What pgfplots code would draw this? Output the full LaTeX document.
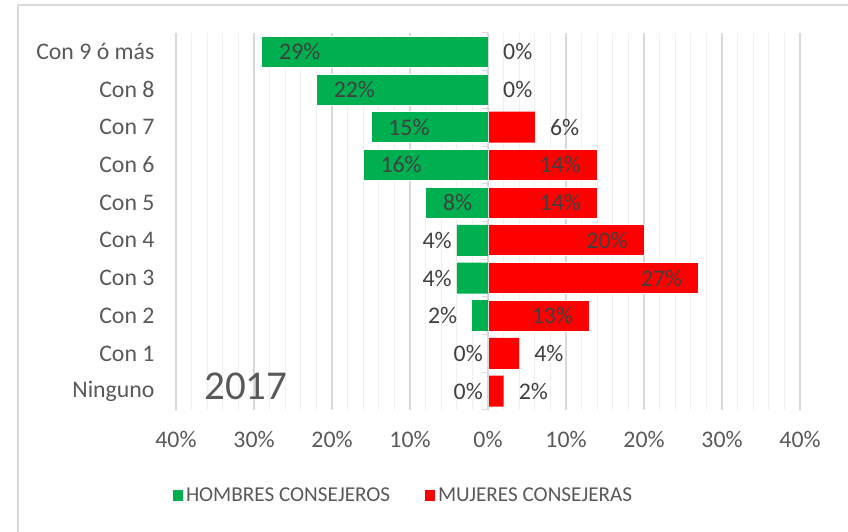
\documentclass[border=0pt]{standalone}
\usepackage{pgfplots}
\pgfplotsset{compat=1.18}
\usepackage{fontspec}
\setmainfont{Carlito}
\definecolor{cgreen}{HTML}{00B050}
\definecolor{cred}{HTML}{FF0000}
\definecolor{ctext}{HTML}{595959}
\definecolor{clab}{HTML}{404040}
\definecolor{cmaj}{HTML}{D9D9D9}
\definecolor{cmin}{HTML}{F0F0F0}
\begin{document}
\begin{tikzpicture}[x=1bp,y=1bp]
\useasboundingbox (0,0) rectangle (848,532);
\draw[cmaj, line width=1.2bp] (18,0) -- (18,527) -- (848,527);
\begin{axis}[
  at={(176bp,122bp)}, anchor=south west,
  scale only axis, width=624bp, height=377bp,
  xbar, bar shift=0pt, bar width=31bp,
  xmin=-40, xmax=40, ymin=-0.5, ymax=9.5,
  xtick={-40,-30,...,40},
  xticklabels={40\%,30\%,20\%,10\%,0\%,10\%,20\%,30\%,40\%},
  minor x tick num=4,
  ytick={0,...,9},
  yticklabels={Ninguno,Con 1,Con 2,Con 3,Con 4,Con 5,Con 6,Con 7,Con 8,Con 9 ó más},
  xmajorgrids, xminorgrids,
  major grid style={cmaj, line width=1.2bp},
  minor grid style={cmin, line width=1bp},
  axis line style={draw=none},
  major tick length=0pt, minor tick length=0pt,
  /pgf/number format/assume math mode=true,
  tick label style={font=\fontsize{23.8bp}{28bp}\selectfont, text=ctext},
  xticklabel style={yshift=-18bp},
  yticklabel style={xshift=-18bp},
  point meta=explicit,
  nodes near coords={\pgfmathprintnumber[assume math mode=true]{\pgfplotspointmeta}\%},
  nodes near coords style={font=\fontsize{23.8bp}{28bp}\selectfont, text=clab, inner sep=0pt},
  legend style={at={(-0.0064,-0.2265)}, anchor=west, draw=none, fill=none,
    legend columns=2, font=\fontsize{21.2bp}{24bp}\selectfont, text=ctext,
    /tikz/every even column/.append style={column sep=32bp},
    legend cell align=left, inner sep=0pt},
  legend image code/.code={\fill[#1] (0bp,-6bp) rectangle (11bp,6bp);},
  clip=false,
]
% green, labels inside end
\addplot[fill=cgreen, draw=white, line width=0.8bp,
  nodes near coords style={anchor=west, xshift=17bp}]
  coordinates {(-29,9) [29] (-22,8) [22] (-15,7) [15] (-16,6) [16] (-8,5) [8]};
\addlegendentry{HOMBRES CONSEJEROS}
% red, labels inside end
\addplot[fill=cred, draw=white, line width=0.8bp,
  nodes near coords style={anchor=east, xshift=-16bp}]
  coordinates {(14,6) [14] (14,5) [14] (20,4) [20] (27,3) [27] (13,2) [13]};
\addlegendentry{MUJERES CONSEJERAS}
% green, labels outside
\addplot[fill=cgreen, draw=none,
  nodes near coords style={anchor=east, xshift=-5bp}]
  coordinates {(-4,4) [4] (-4,3) [4] (0,1) [0] (0,0) [0]};
\addplot[fill=cgreen, draw=none,
  nodes near coords style={anchor=east, xshift=-15bp}]
  coordinates {(-2,2) [2]};
% red, labels outside
\addplot[fill=cred, draw=none,
  nodes near coords style={anchor=west, xshift=15bp}]
  coordinates {(0,9) [0] (0,8) [0] (6,7) [6] (4,1) [4] (2,0) [2]};
\draw[cmaj, line width=1bp] (axis cs:0,-0.5) -- (axis cs:0,9.5);
\pgfplotsinvokeforeach{0,...,10}{
  \draw[cmaj, line width=1bp] (axis cs:0,#1-0.5) -- ++(-6bp,0bp);
}
\node[font=\fontsize{41bp}{48bp}\selectfont, text=ctext] at (rel axis cs:0.112,0.064) {2017};
\end{axis}
\end{tikzpicture}
\end{document}
